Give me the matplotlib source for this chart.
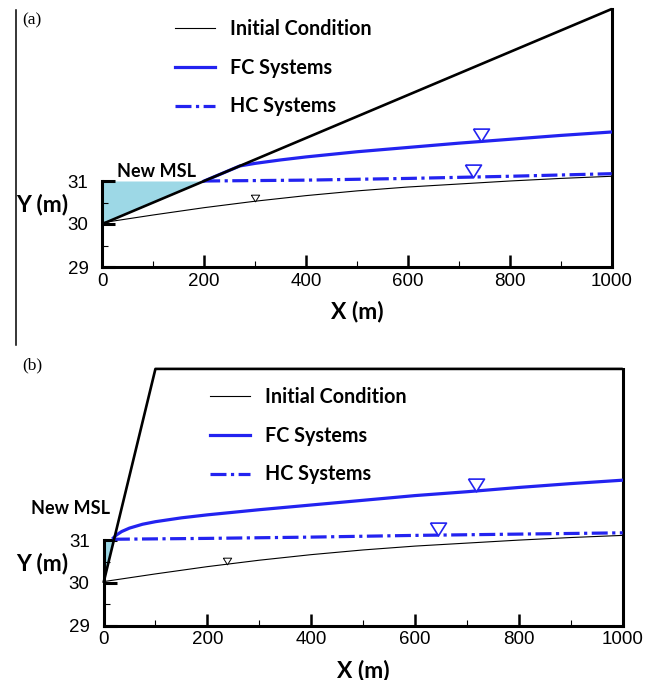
import numpy as np
import matplotlib.pyplot as plt
import matplotlib.transforms as mtransforms
from matplotlib.lines import Line2D

# ---- data ----
msl = 31.0

# domain boundary (top of the model domain)
bnd_a_x = [0, 1000]
bnd_a_y = [30.0, 35.0]
bnd_b_x = [0, 100, 1000]
bnd_b_y = [30.0, 35.0, 35.0]

# initial water table
init_x = [0, 100, 200, 300, 400, 500, 600, 700, 800, 900, 1000]
init_y = [30.03, 30.21, 30.38, 30.53, 30.66, 30.77, 30.86, 30.93, 31.00, 31.06, 31.11]

# panel (a)
fc_a_x = [200, 270, 300, 350, 400, 500, 600, 700, 800, 900, 1000]
fc_a_y = [31.0, 31.35, 31.41, 31.49, 31.56, 31.68, 31.78, 31.88, 31.97, 32.06, 32.14]
hc_a_x = [200, 400, 600, 800, 1000]
hc_a_y = [31.0, 31.02, 31.06, 31.11, 31.17]

# panel (b)
fc_b_x = [19, 25, 35, 50, 75, 100, 150, 200, 300, 400, 500, 600, 700, 800, 900, 1000]
fc_b_y = [31.05, 31.12, 31.20, 31.28, 31.37, 31.43, 31.52, 31.59, 31.71, 31.82,
          31.93, 32.04, 32.13, 32.23, 32.32, 32.40]
hc_b_x = [20, 200, 400, 600, 800, 1000]
hc_b_y = [31.02, 31.04, 31.07, 31.11, 31.14, 31.17]

# water-table marker positions
marks_a = {"init": 300, "fc": 743, "hc": 727}
marks_b = {"init": 237, "fc": 718, "hc": 645}

x_ticks = [0, 200, 400, 600, 800, 1000]
y_ticks = [29, 30, 31]

BLUE = "#2323f0"
CYAN = "#9dd8e6"
LEG_FONT = "Lato"
TICK_FONT = "Liberation Sans"

fig = plt.figure(figsize=(6.54, 6.8), dpi=100)

tri = [(-1, 0.8), (1, 0.8), (0, -0.8), (-1, 0.8)]
hc_dash = (0, (5, 1.4, 1, 1.4))


def mark(ax, x0, lx, ly, color, ms, mew):
    y0 = np.interp(x0, lx, ly)
    tr = mtransforms.offset_copy(ax.transData, fig=fig, x=0, y=0.4 * ms, units="points")
    ax.plot([x0], [y0], marker=tri, ms=ms, mfc="white", mec=color, mew=mew,
            transform=tr, clip_on=False, zorder=6)


def panel(rect, bx, by, fcx, fcy, hcx, hcy, marks, tag, msl_xy, leg_xy):
    ax = fig.add_axes(rect)
    ax.set_xlim(0, 1000)
    ax.set_ylim(29, 35)

    # flooded zone below new MSL
    xi = np.interp(msl, by[:2], bx[:2])
    ax.fill_between([bx[0], xi], [by[0], msl], msl, color=CYAN, lw=0, zorder=1)

    ax.plot(bx, by, color="black", lw=1.9, clip_on=False, zorder=4,
            solid_capstyle="butt")
    ax.plot(init_x, init_y, color="black", lw=0.8, label="Initial Condition", zorder=3)
    ax.plot(fcx, fcy, color=BLUE, lw=2.3, label="FC Systems", zorder=3)
    ax.plot(hcx, hcy, color=BLUE, lw=2.3, ls=hc_dash, label="HC Systems", zorder=3)

    mark(ax, marks["init"], init_x, init_y, "black", 6, 0.7)
    mark(ax, marks["fc"], fcx, fcy, BLUE, 11.5, 1.2)
    mark(ax, marks["hc"], hcx, hcy, BLUE, 11.5, 1.2)

    ax.spines["top"].set_visible(False)
    for s in ["left", "bottom", "right"]:
        ax.spines[s].set_linewidth(2.2)
    ax.spines["left"].set_bounds(29, 31)
    ax.spines["right"].set_bounds(29, 35)

    ax.set_xticks(x_ticks)
    ax.set_xticks(range(100, 1000, 200), minor=True)
    ax.set_yticks(y_ticks)
    ax.set_yticks([29.5, 30.5], minor=True)
    ax.tick_params(which="major", direction="in", length=9, width=2.2, labelsize=13.5)
    ax.tick_params(which="minor", direction="in", length=4, width=0.8)
    ax.tick_params(axis="x", which="major", width=1.8, pad=4)
    ax.tick_params(axis="y", which="major", pad=10)
    ax.tick_params(right=False, top=False, which="both")
    for lab in ax.get_xticklabels() + ax.get_yticklabels():
        lab.set_fontfamily(TICK_FONT)

    ax.set_xlabel("X (m)", fontsize=16.5, fontweight="bold", family=LEG_FONT, labelpad=8)
    ax.set_ylabel("Y (m)", fontsize=16.5, fontweight="bold", family=LEG_FONT, rotation=0,
                  va="center", ha="center")
    ax.yaxis.set_label_coords(-0.118, 0.242)

    ax.text(msl_xy[0], msl_xy[1], "New MSL", fontsize=13, fontweight="bold",
            family=LEG_FONT, ha=msl_xy[2], va="center")

    ax.legend(loc="upper left", bbox_to_anchor=leg_xy, bbox_transform=fig.transFigure,
              frameon=False, borderpad=0, borderaxespad=0, handlelength=2.05,
              handletextpad=0.75, labelspacing=0.95,
              prop={"family": LEG_FONT, "weight": "bold", "size": 14.2})

    ax.text(tag[1], tag[2], tag[0], transform=fig.transFigure, fontsize=12.5,
            family="Liberation Serif", ha="left", va="center")
    return ax


panel([102.3 / 654, 1 - 267 / 680, 509.4 / 654, 258 / 680],
      bnd_a_x, bnd_a_y, fc_a_x, fc_a_y, hc_a_x, hc_a_y, marks_a,
      ("(a)", 22 / 654, 1 - 20 / 680), (28, 31.21, "left"),
      (175 / 654, 1 - 19 / 680))

panel([103.5 / 654, 1 - 625.7 / 680, 519.2 / 654, 256.8 / 680],
      bnd_b_x, bnd_b_y, fc_b_x, fc_b_y, hc_b_x, hc_b_y, marks_b,
      ("(b)", 22 / 654, 1 - 365 / 680), (13, 31.73, "right"),
      (210 / 654, 1 - 387 / 680))

# thin page rule at the left of panel (a)
fig.add_artist(Line2D([16 / 654, 16 / 654], [1 - 10 / 680, 1 - 345 / 680],
                      transform=fig.transFigure, color="black", lw=1.1))

fig.savefig("out.png", dpi=100)
